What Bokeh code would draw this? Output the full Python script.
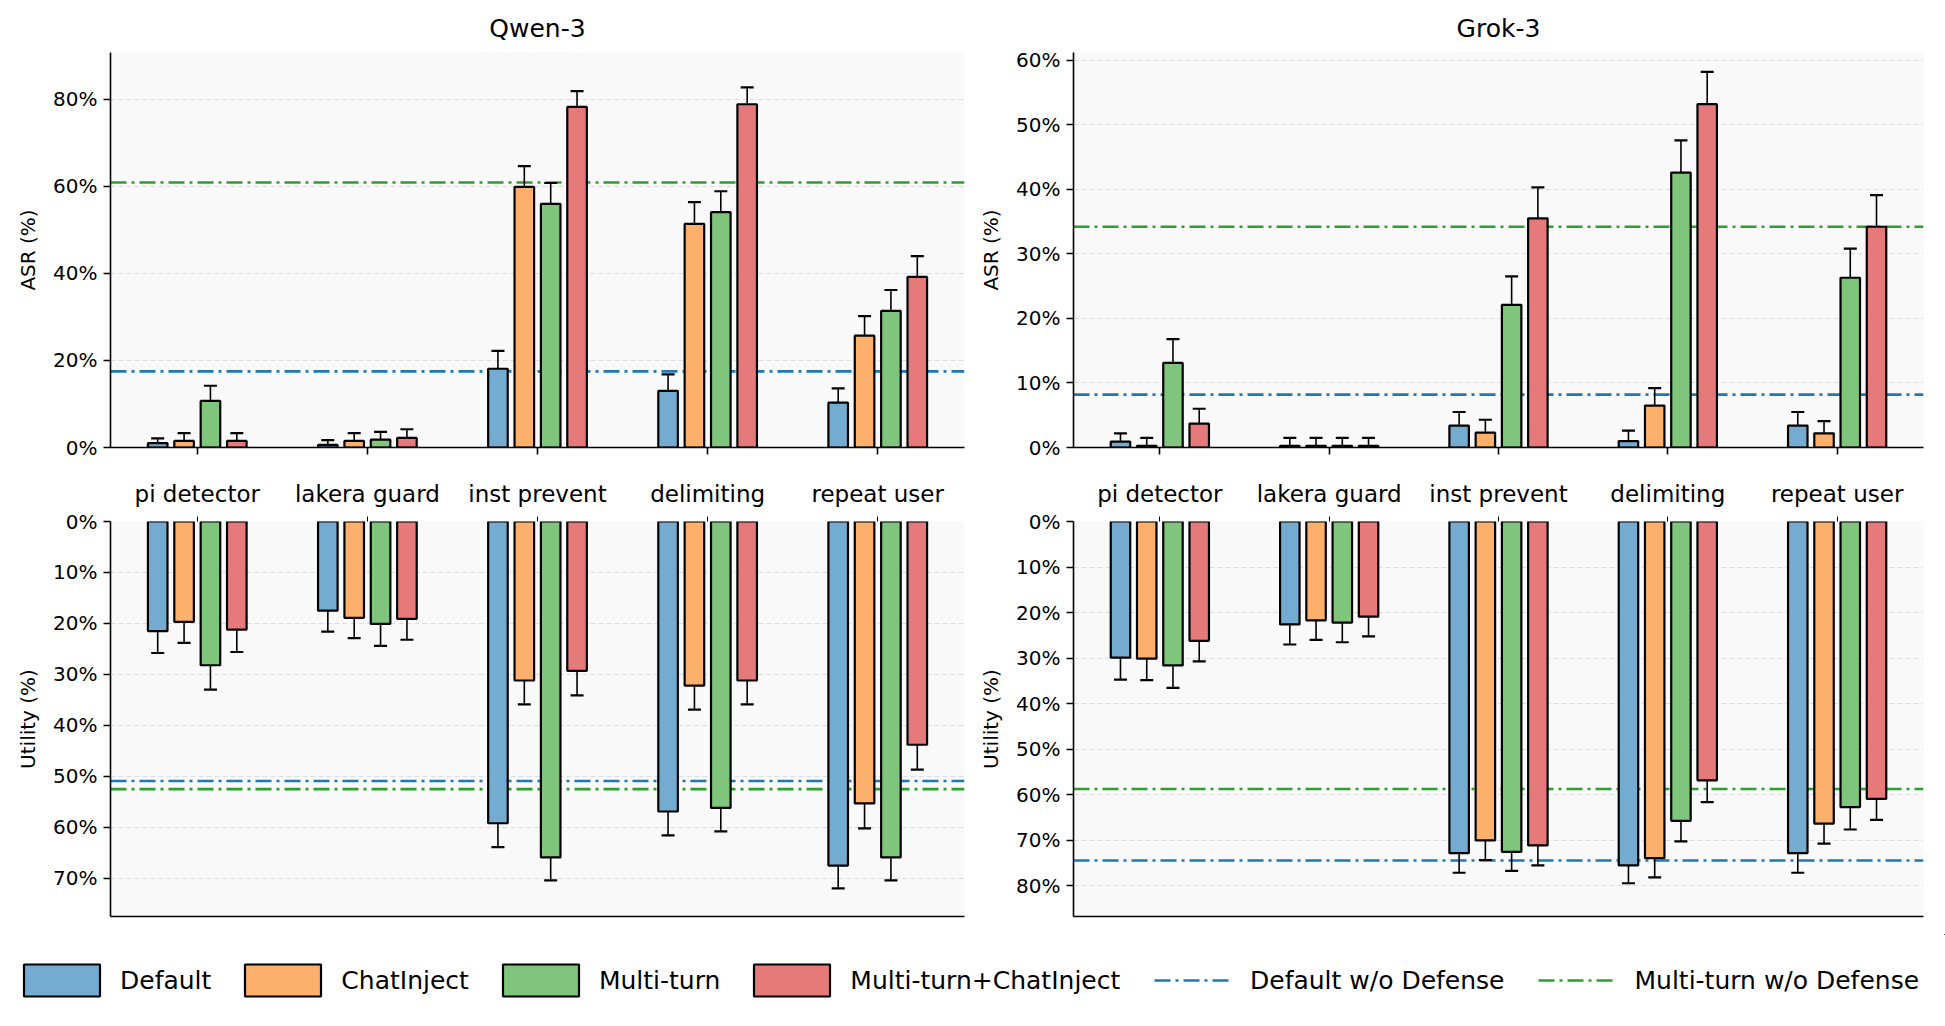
from bokeh.plotting import figure
from bokeh.models import (ColumnDataSource, Range1d, Span, Whisker, TeeHead, FixedTicker,
                          PrintfTickFormatter, LinearAxis, Legend, LegendItem)
from bokeh.layouts import column, row
from bokeh.transform import dodge
from bokeh.embed import file_html
from bokeh.resources import INLINE

# ---------------- data ----------------
categories = ["pi detector", "lakera guard", "inst prevent", "delimiting", "repeat user"]
series = ["Default", "ChatInject", "Multi-turn", "Multi-turn+ChatInject"]
baseline_names = ["Default w/o Defense", "Multi-turn w/o Defense"]

# Qwen-3 ASR (%) rows: Default, ChatInject, Multi-turn, Multi-turn+ChatInject
qwen_asr = [[1.0, 0.6, 18.1, 13.0, 10.3],
            [1.5, 1.5, 59.9, 51.4, 25.7],
            [10.7, 1.8, 56.0, 54.1, 31.4],
            [1.5, 2.2, 78.3, 78.9, 39.2]]
qwen_asr_lo = [[0.4, 0.2, 14.5, 10.0, 7.7],
               [0.7, 0.6, 55.0, 46.5, 21.4],
               [8.1, 0.8, 51.1, 49.0, 27.0],
               [0.7, 1.2, 73.8, 74.5, 34.4]]
qwen_asr_hi = [[2.1, 1.7, 22.2, 16.8, 13.6],
               [3.3, 3.3, 64.7, 56.4, 30.2],
               [14.2, 3.6, 60.8, 58.9, 36.2],
               [3.3, 4.2, 81.9, 82.8, 44.0]]
qwen_asr_base = [17.5, 60.9]

# Grok-3 ASR (%)
grok_asr = [[0.9, 0.26, 3.4, 1.0, 3.4],
            [0.26, 0.26, 2.3, 6.5, 2.2],
            [13.1, 0.26, 22.1, 42.6, 26.3],
            [3.7, 0.26, 35.5, 53.2, 34.2]]
grok_asr_lo = [[0.2, 0.0, 1.9, 0.4, 1.9],
               [0.0, 0.0, 1.1, 4.4, 1.0],
               [10.1, 0.0, 18.2, 37.8, 22.1],
               [2.1, 0.0, 30.9, 48.2, 29.6]]
grok_asr_hi = [[2.2, 1.5, 5.5, 2.6, 5.5],
               [1.5, 1.5, 4.3, 9.2, 4.1],
               [16.8, 1.5, 26.5, 47.6, 30.8],
               [6.0, 1.5, 40.3, 58.2, 39.1]]
grok_asr_base = [8.2, 34.2]

# Qwen-3 Utility (%)
qwen_util = [[21.5, 17.5, 59.2, 56.9, 67.5],
             [19.7, 18.9, 31.2, 32.2, 55.3],
             [28.2, 20.1, 65.9, 56.2, 65.9],
             [21.2, 19.1, 29.3, 31.2, 43.8]]
qwen_util_lo = [[17.5, 14.2, 54.2, 51.8, 62.5],
                [15.9, 15.3, 26.7, 27.7, 50.4],
                [24.1, 16.5, 61.0, 51.0, 61.0],
                [17.4, 15.5, 25.1, 26.7, 38.8]]
qwen_util_hi = [[25.8, 21.6, 63.9, 61.6, 72.0],
                [23.8, 22.9, 35.9, 36.9, 60.2],
                [33.0, 24.4, 70.4, 60.8, 70.4],
                [25.6, 23.2, 34.1, 35.9, 48.7]]
qwen_util_base = [50.9, 52.5]

# Grok-3 Utility (%)
grok_util = [[29.9, 22.6, 72.8, 75.5, 72.8],
             [30.1, 21.7, 70.0, 73.9, 66.3],
             [31.6, 22.2, 72.5, 65.7, 62.7],
             [26.2, 20.9, 71.1, 56.8, 60.9]]
grok_util_lo = [[25.4, 18.8, 68.2, 70.9, 68.2],
                [25.9, 17.8, 65.2, 69.2, 61.4],
                [27.2, 18.3, 67.9, 60.7, 57.9],
                [22.0, 17.1, 66.4, 51.9, 55.9]]
grok_util_hi = [[34.7, 27.0, 77.1, 79.4, 77.1],
                [34.8, 26.0, 74.3, 78.1, 70.7],
                [36.5, 26.5, 76.7, 70.2, 67.6],
                [30.7, 25.2, 75.5, 61.6, 65.5]]
grok_util_base = [74.4, 58.7]

# ---------------- style ----------------
FONT = "DejaVu Sans"
bar_colors = ["#74acd1", "#fdb06b", "#7fc57b", "#e67a7a"]
base_colors = ["#1f77b4", "#2ca02c"]
offsets = [-0.2325, -0.0775, 0.0775, 0.2325]
BAR_W = 0.115
DASHDOT = "16 5 3 5"


def make_panel(vals, lo, hi, base, y_max, y_step, is_top, ylabel, title,
               left_b, right_b, frame_w):
    n = len(categories)
    data = {"x": list(range(n))}
    for i in range(len(series)):
        data[f"v{i}"] = vals[i]
        data[f"lo{i}"] = lo[i]
        data[f"hi{i}"] = hi[i]
    src = ColumnDataSource(data)

    if is_top:
        yr = Range1d(0, y_max)
    else:
        yr = Range1d(y_max, 0)

    p = figure(frame_width=frame_w, frame_height=395,
               x_range=Range1d(-0.51, n - 1 + 0.51), y_range=yr,
               output_backend="svg", toolbar_location=None,
               x_axis_location="below" if is_top else "above",
               min_border_left=left_b, min_border_right=right_b,
               min_border_top=52 if is_top else 51,
               min_border_bottom=23 if is_top else 18)
    p.background_fill_color = "#f9f9f9"
    p.border_fill_color = "white"
    p.outline_line_color = None

    if title:
        p.title.text = title
        p.title.align = "center"
        p.title.text_font = FONT
        p.title.text_font_size = "25px"
        p.title.text_font_style = "normal"
        p.title.text_color = "black"
        p.title.standoff = 20

    # grid
    p.xgrid.grid_line_color = None
    p.ygrid.grid_line_color = "#dcdcdc"
    p.ygrid.grid_line_dash = "5 3"
    p.ygrid.grid_line_width = 1.2

    # baselines (behind bars)
    for b, c in zip(base, base_colors):
        p.add_layout(Span(location=b, dimension="width", line_color=c,
                          line_width=2.6, line_dash=DASHDOT, level="underlay"))

    # bars + error bars
    for i, (off, col) in enumerate(zip(offsets, bar_colors)):
        xs = dodge("x", off, range=p.x_range)
        if is_top:
            p.vbar(x=xs, width=BAR_W, bottom=0, top=f"v{i}", source=src,
                   fill_color=col, line_color="black", line_width=2.2)
        else:
            p.vbar(x=xs, width=BAR_W, top=0, bottom=f"v{i}", source=src,
                   fill_color=col, line_color="black", line_width=2.2)
        w = Whisker(source=src, base=xs, lower=f"lo{i}", upper=f"hi{i}",
                    dimension="height", line_color="black", line_width=1.6,
                    upper_head=TeeHead(size=13, line_width=2.2, line_color="black"),
                    lower_head=TeeHead(size=13, line_width=2.2, line_color="black"))
        p.add_layout(w)

    # y axis
    ya = p.yaxis[0]
    ya.ticker = FixedTicker(ticks=list(range(0, int(y_max) + 1, y_step)))
    ya.formatter = PrintfTickFormatter(format="%d%%")
    ya.axis_label = ylabel
    ya.axis_label_text_font = FONT
    ya.axis_label_text_font_size = "20px"
    ya.axis_label_text_font_style = "normal"
    ya.axis_label_text_color = "black"
    ya.axis_label_standoff = 10
    ya.major_label_text_font = FONT
    ya.major_label_text_font_size = "20px"
    ya.major_label_text_color = "black"
    ya.major_label_standoff = 6
    ya.axis_line_color = "black"
    ya.major_tick_line_color = "black"
    ya.axis_line_width = 1.6
    ya.major_tick_line_width = 1.6
    ya.major_tick_out = 7
    ya.major_tick_in = 0
    ya.minor_tick_out = 0
    ya.minor_tick_in = 0

    # x axis
    xa = p.xaxis[0]
    xa.ticker = FixedTicker(ticks=list(range(n)))
    xa.major_label_overrides = {i: c for i, c in enumerate(categories)}
    xa.minor_tick_out = 0
    xa.minor_tick_in = 0
    xa.major_tick_in = 0
    xa.major_label_text_font = FONT
    xa.major_tick_line_color = "black"
    if is_top:
        xa.major_label_text_font_size = "0px"
        xa.major_label_text_color = None
        xa.axis_line_color = "black"
        xa.axis_line_width = 1.6
        xa.major_tick_line_width = 1.6
        xa.major_tick_out = 7
    else:
        xa.major_label_text_font_size = "23px"
        xa.major_label_text_color = "black"
        xa.major_label_standoff = 10
        xa.axis_line_color = None
        xa.major_tick_line_width = 1
        xa.major_tick_out = 5
        bottom = LinearAxis(ticker=FixedTicker(ticks=[]), axis_line_width=1.6,
                            axis_line_color="black",
                            major_label_text_font_size="0px",
                            major_tick_out=0, minor_tick_out=0)
        p.add_layout(bottom, "below")
    return p


p1 = make_panel(qwen_asr, qwen_asr_lo, qwen_asr_hi, qwen_asr_base, 90.8, 20, True,
                "ASR (%)", "Qwen-3", 110, 10, 854)
p2 = make_panel(grok_asr, grok_asr_lo, grok_asr_hi, grok_asr_base, 61.2, 10, True,
                "ASR (%)", "Grok-3", 99, 22, 850)
p3 = make_panel(qwen_util, qwen_util_lo, qwen_util_hi, qwen_util_base, 77.5, 10, False,
                "Utility (%)", None, 110, 10, 854)
p4 = make_panel(grok_util, grok_util_lo, grok_util_hi, grok_util_base, 86.7, 10, False,
                "Utility (%)", None, 99, 22, 850)

# ---------------- legend ----------------
lg = figure(width=1945, height=88, output_backend="svg", toolbar_location=None,
            x_axis_type=None, y_axis_type=None, x_range=Range1d(0, 1), y_range=Range1d(0, 1),
            min_border=0)
lg.outline_line_color = None
lg.grid.grid_line_color = None
bar_items = []
line_items = []
# legend-only renderers: data placed outside the visible range of the legend figure
for name, col in zip(series, bar_colors):
    r = lg.vbar(x=[5], top=[5], bottom=[4], width=0.1, fill_color=col,
                line_color="black", line_width=2.2)
    bar_items.append(LegendItem(label=name, renderers=[r]))
for name, col in zip(baseline_names, base_colors):
    r = lg.line(x=[5, 6], y=[5, 5], line_color=col, line_width=2.6, line_dash=DASHDOT)
    line_items.append(LegendItem(label=name, renderers=[r]))

common = dict(orientation="horizontal", padding=0, margin=0, border_line_color=None,
              background_fill_alpha=0, label_text_font=FONT, label_text_font_size="25px",
              label_text_color="black", glyph_height=40)
legend_bars = Legend(items=bar_items, location=(14, 22), glyph_width=95,
                     label_standoff=11, spacing=24, **common)
legend_lines = Legend(items=line_items, location=(1154, 22), glyph_width=76,
                      label_standoff=20, spacing=34, **common)
lg.add_layout(legend_bars, "center")
lg.add_layout(legend_lines, "center")

layout = column(row(p1, p2, spacing=0), row(p3, p4, spacing=0), lg, spacing=0)

open("out.html", "w").write(file_html(layout, INLINE))
